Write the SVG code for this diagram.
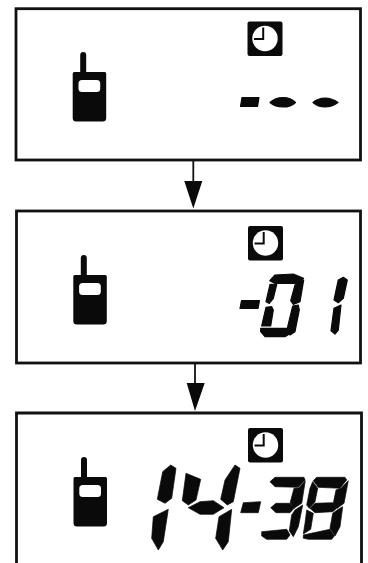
<svg xmlns="http://www.w3.org/2000/svg" width="368" height="563" viewBox="0 0 368 563">
<style>
.f{fill:none;stroke:#111;stroke-width:2.8}
.k{fill:#0a0a0a}
.d{fill:#0a0a0a;stroke:#0a0a0a;stroke-width:.7;stroke-linejoin:round}
.e{fill:#0a0a0a;stroke:#0a0a0a;stroke-width:1.2;stroke-linejoin:round}
.w{fill:#fff}
.h{fill:none;stroke:#0a0a0a;stroke-width:2}
.c{stroke:#111;stroke-width:1.8;fill:none}
</style>
<defs>
<g id="phone">
<path class="k" d="M10.500 0q3 0 3 3V20H32q1.500 0 1.500 1.500V66q0 3.500-3.500 3.500H3.500q-3.500 0-3.500-3.500V21.500Q0 20 1.500 20H7.500V3q0-3 3-3Z"/>
<rect class="w" x="5.800" y="28" width="21.700" height="12" rx="3.500"/>
</g>
<g id="clock">
<rect class="k" width="35" height="34.500" rx="2"/>
<circle class="w" cx="17.500" cy="17" r="12.700"/>
<path class="h" d="M15.700 6V17.500H6.500"/>
</g>
</defs>
<rect width="368" height="563" fill="#fff"/>
<g id="connectors">
<path class="c" d="M193.300 161V185"/>
<path class="k" d="M184.300 181H202.300L193.300 208.500Z"/>
<path class="c" d="M195 364V388"/>
<path class="k" d="M186.700 383H204.700L195 411Z"/>
</g>
<g id="state-1">
<rect class="f" x="16" y="8.700" width="344.500" height="151.300"/>
<use href="#phone" x="72.700" y="52"/>
<use href="#clock" x="247.500" y="21.500"/>
<path class="e" d="M242 97.500H259L257.500 106.500H240.500Z"/>
<path class="e" d="M270 102.500Q275 97.500 283 97.500Q291 97.500 295.500 102.500Q291 107 283 107Q275 107 270 102.500Z"/>
<path class="e" d="M313 102.500Q318 98 325 98Q332 98 338 102.500Q332 107 325 107Q318 107 313 102.500Z"/>
</g>
<g id="state-2">
<rect class="f" x="16.500" y="211" width="344" height="152"/>
<use href="#phone" x="73.300" y="255"/>
<use href="#clock" x="248" y="226"/>
<path class="e" d="M241.500 300.500H259.500L258 308.500H240Z"/>
<path class="e" d="M269.800 280.700 275 275 293.300 274 303.500 278.300 298.300 283.500 275 283.500Z"/>
<path class="e" d="M270 284.300 276.700 284.500 273.300 298.300 269.300 303.500 266 301.700Z"/>
<path class="e" d="M303.700 280 300 301.700 293.300 304.500 290.700 300.700 295 285Z"/>
<path class="e" d="M266 307.300 271.700 306.700 273.300 310 270.700 326H261.700Z"/>
<path class="e" d="M292.700 306 298.300 305 299.300 310 295 331.700 290 335 287.300 328.300Z"/>
<path class="e" d="M260.700 328.300H286.500L289.300 334 285 336.700H265L260.700 331.700Z"/>
<path class="e" d="M338.300 280 343.300 277.300 347.300 280 343.300 298.300 338.300 302.700 334 300Z"/>
<path class="e" d="M334 308.300 341 305 338.300 330 335 334 331 330.700Z"/>
</g>
<g id="state-3">
<path class="f" d="M16.500 563V413H361.500V563"/>
<use href="#phone" x="73.500" y="457"/>
<use href="#clock" x="248" y="428"/>
<path class="d" d="M162.700 471.700 170.700 465 176 468.300 171.700 498.300 165 503.300 157.300 499.300Z"/>
<path class="d" d="M153.300 516.700 168.300 509.300 163.300 541.700 158.300 550 151.700 538.300Z"/>
<path class="d" d="M186 473.300 200.700 479.300 196 500 188.300 505 182.300 500.700Z"/>
<path class="d" d="M188.300 507.700 200 501.700 213.300 500.700 224 507.700 213.300 514.300H200Z"/>
<path class="d" d="M225 480 235 465 240 468.300 233.300 501.700 227.300 505 220.700 499.300Z"/>
<path class="d" d="M219 516.700 231.700 509.300 228.300 541.700 222.700 550 215.700 538.300Z"/>
<path class="d" d="M243.300 502.700 260.700 501.700 258.300 512.700H240.700Z"/>
<path class="d" d="M270 481.700 275 477.300H304L305 480 298.300 487.300 275 486.700Z"/>
<path class="d" d="M305.300 480.700 301.700 503.300 294 508.300 290 503.300 294 488.300 298.700 488Z"/>
<path class="d" d="M270.700 507.700 276 503.300H289.300L294 508.300 290 512.700H276Z"/>
<path class="d" d="M302.700 505 298.300 526.700 293.300 536.700 289.300 530.700 291.700 515 295 510Z"/>
<path class="d" d="M261.700 531.700 286.700 529.300 290 535 286.700 539.300H266.700L261.700 536Z"/>
<path class="d" d="M313.300 480.700 316.700 477.300H345L346.700 480 340 488.300 318.300 487.300Z"/>
<path class="d" d="M312.700 481.700 317.700 488.300 315 501.700 309.300 508.300 306.700 505 310 488.300Z"/>
<path class="d" d="M348.300 480.700 344 503.300 337.300 508.300 333.300 503.300 336 490 341 488.300Z"/>
<path class="d" d="M310 508.300 315 503.300 332.700 502.700 337.300 507.700 332.700 511.700 315 512.700Z"/>
<path class="d" d="M306.700 510 313.300 513.300 310.700 529.300 303.300 534 305 523.300Z"/>
<path class="d" d="M338.300 509.300 342.700 506.700 340 526.700 335 536 330 528.300 332.700 513.300Z"/>
<path class="d" d="M303.300 535 330 529.300 334.300 536 331.700 539.300H308.300L303.300 538.300Z"/>
</g>
</svg>
